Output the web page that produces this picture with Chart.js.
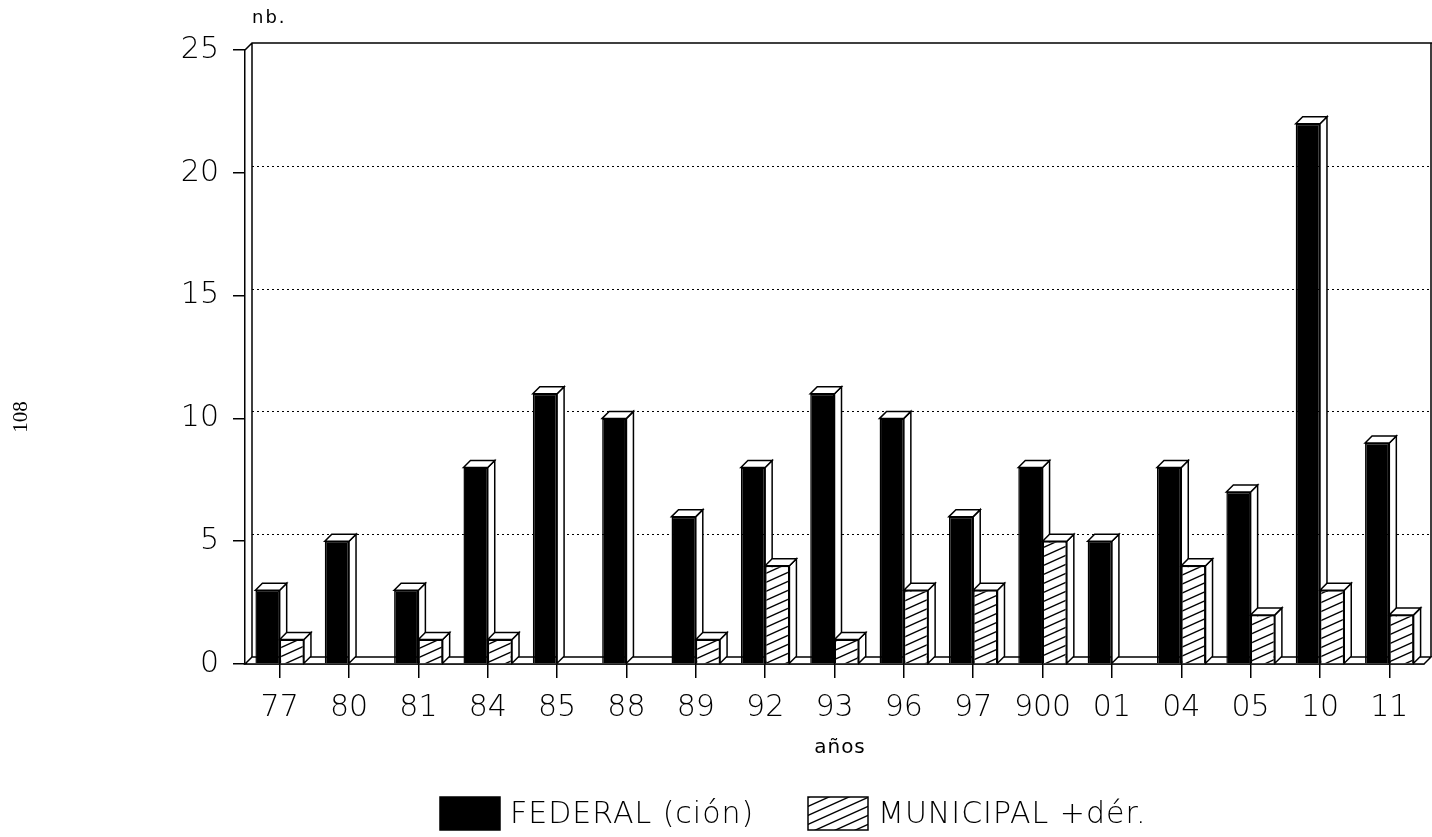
<!DOCTYPE html>
<html>
<head>
<meta charset="utf-8">
<script src="https://cdn.jsdelivr.net/npm/chart.js@4"></script>
<style>
  html, body { margin: 0; padding: 0; background: #fff; }
  #wrap { width: 1432px; height: 837px; position: relative; }
</style>
</head>
<body>
<div id="wrap"><canvas id="chart"></canvas></div>
<script>
const years = ['77', '80', '81', '84', '85', '88', '89', '92', '93', '96', '97', '900', '01', '04', '05', '10', '11'];
const federal = [3, 5, 3, 8, 11, 10, 6, 8, 11, 10, 6, 8, 5, 8, 7, 22, 9];
const municipal = [1, 0, 1, 1, 0, 0, 1, 4, 1, 3, 3, 5, 0, 4, 2, 3, 2];
const yTicks = [0, 5, 10, 15, 20, 25];
const seriesNames = ['FEDERAL (ción)', 'MUNICIPAL +dér.'];

const DX = 7, DY = 7;
const tickFont = {family: 'DejaVu Sans', size: 30, weight: 200};

const canvas = document.getElementById('chart');
const ctx = canvas.getContext('2d');

function makeHatch() {
    const c = document.createElement('canvas');
    c.width = 20;
    c.height = 9;
    const g = c.getContext('2d');
    g.fillStyle = '#fff';
    g.fillRect(0, 0, 20, 9);
    g.strokeStyle = '#000';
    g.lineWidth = 1.4;
    [-9, 0, 9].forEach(o => {
        g.beginPath();
        g.moveTo(0, 9 + o);
        g.lineTo(20, o);
        g.stroke();
    });
    return ctx.createPattern(c, 'repeat');
}
const hatch = makeHatch();

function poly(c, pts) {
    c.beginPath();
    c.moveTo(pts[0][0], pts[0][1]);
    pts.slice(1).forEach(p => c.lineTo(p[0], p[1]));
    c.closePath();
    c.fill();
    c.stroke();
}

const frame3d = {
    id: 'frame3d',
    beforeDatasetsDraw(chart) {
        const {ctx, chartArea: a, scales: {x, y}} = chart;
        ctx.save();
        ctx.strokeStyle = '#000';
        ctx.fillStyle = '#fff';
        ctx.lineWidth = 1;

        // dotted grid on the back wall
        ctx.setLineDash([2, 3]);
        yTicks.filter(v => v > 0 && v < 25).forEach(v => {
            const py = Math.round(y.getPixelForValue(v) - DY) + 0.5;
            ctx.beginPath();
            ctx.moveTo(a.left + DX, py);
            ctx.lineTo(a.right + DX, py);
            ctx.stroke();
        });
        ctx.setLineDash([]);

        // back wall outline + left wall
        ctx.lineWidth = 1.5;
        ctx.beginPath();
        ctx.moveTo(a.left, a.top);
        ctx.lineTo(a.left + DX, a.top - DY);
        ctx.lineTo(chart.width, a.top - DY);
        ctx.moveTo(a.right + DX, a.top - DY);
        ctx.lineTo(a.right + DX, a.bottom - DY);
        ctx.moveTo(a.left + DX, a.top - DY);
        ctx.lineTo(a.left + DX, a.bottom - DY);
        ctx.stroke();

        // floor
        poly(ctx, [[a.left, a.bottom], [a.left + DX, a.bottom - DY], [a.right + DX, a.bottom - DY], [a.right, a.bottom]]);

        // top and side faces of every bar
        chart.data.datasets.forEach((ds, di) => {
            const meta = chart.getDatasetMeta(di);
            meta.data.forEach((bar, i) => {
                if (!ds.data[i]) return;
                const {x: cx, y: top, base, width} = bar.getProps(['x', 'y', 'base', 'width'], true);
                const l = cx - width / 2, r = cx + width / 2;
                poly(ctx, [[r, top], [r + DX, top - DY], [r + DX, base - DY], [r, base]]);
                poly(ctx, [[l, top], [l + DX, top - DY], [r + DX, top - DY], [r, top]]);
            });
        });
        ctx.restore();
    },
    afterDraw(chart) {
        const {ctx} = chart;
        ctx.save();
        ctx.fillStyle = '#000';
        ctx.textBaseline = 'middle';

        ctx.font = '18px "DejaVu Sans"';
        ctx.letterSpacing = '2px';
        ctx.textAlign = 'left';
        ctx.fillText('nb.', 252, 18);

        ctx.font = '20px "DejaVu Sans"';
        ctx.letterSpacing = '1px';
        ctx.textAlign = 'center';
        ctx.fillText('años', 840, 748);

        // legend
        ctx.font = '200 30px "DejaVu Sans"';
        ctx.letterSpacing = '1px';
        ctx.textAlign = 'left';
        ctx.lineWidth = 1.5;
        ctx.strokeStyle = '#000';
        const boxes = [[440, chart.data.datasets[0]], [808, chart.data.datasets[1]]];
        boxes.forEach(([bx, ds]) => {
            ctx.fillStyle = ds.backgroundColor;
            ctx.fillRect(bx, 797, 60, 33);
            ctx.strokeRect(bx, 797, 60, 33);
            ctx.fillStyle = '#000';
            ctx.fillText(ds.label, bx + 70, 815);
        });

        // page number
        ctx.letterSpacing = '0px';
        ctx.font = '21px "Liberation Serif"';
        ctx.translate(21, 417);
        ctx.rotate(-Math.PI / 2);
        ctx.textAlign = 'center';
        ctx.fillText('108', 0, 0);
        ctx.restore();
    }
};

new Chart(ctx, {
    type: 'bar',
    data: {
        labels: years,
        datasets: [
            {label: seriesNames[0], data: federal, backgroundColor: '#000', borderColor: '#000', borderWidth: 1.5},
            {label: seriesNames[1], data: municipal, backgroundColor: hatch, borderColor: '#000', borderWidth: 1.5}
        ]
    },
    options: {
        responsive: true,
        maintainAspectRatio: false,
        animation: false,
        events: [],
        layout: {padding: {top: 50, right: 8, left: 0, bottom: 0}},
        datasets: {bar: {categoryPercentage: 0.7, barPercentage: 1.0}},
        plugins: {legend: {display: false}, tooltip: {enabled: false}},
        scales: {
            x: {
                afterFit: s => { s.height = 173; },
                grid: {drawOnChartArea: false, offset: false, tickLength: 14, color: '#000', lineWidth: 1.5},
                border: {display: true, color: '#000', width: 1.5},
                ticks: {color: '#000', font: tickFont, padding: 12, autoSkip: false, maxRotation: 0}
            },
            y: {
                min: 0,
                max: 25,
                afterFit: s => { s.width = 245; },
                afterBuildTicks: s => { s.ticks = yTicks.map(v => ({value: v})); },
                grid: {drawOnChartArea: false, tickLength: 12, color: '#000', lineWidth: 1.5},
                border: {display: true, color: '#000', width: 1.5},
                ticks: {color: '#000', font: tickFont, padding: 14}
            }
        }
    },
    plugins: [frame3d]
});
</script>
</body>
</html>
